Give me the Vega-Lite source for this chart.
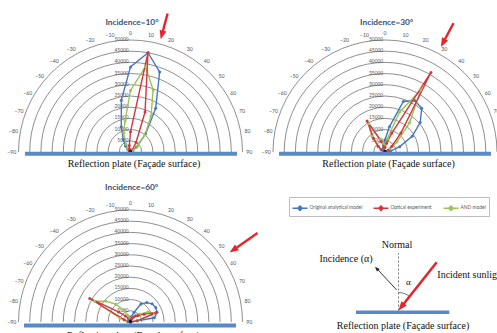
{
"$schema": "https://vega.github.io/schema/vega-lite/v6.json",
"padding": 0,
"background": "white",
"columns": 2,
"spacing": {"row": 13, "column": 0},
"bounds": "flush",
"config": {"view": {"stroke": null},
  "legend": {"labelFont": "Lato", "labelFontSize": 4.9, "labelColor": "#595959", "symbolType": "M-1,0L1,0M0,-0.32L0.32,0L0,0.32L-0.32,0Z", "symbolSize": 225, "symbolStrokeWidth": 1.3, "strokeColor": "#bdbdbd", "fillColor": "white", "padding": 2.5, "columnPadding": 8, "labelOffset": 1}},
"datasets": {
 "rings": [{"r":5000},{"r":10000},{"r":15000},{"r":20000},{"r":25000},{"r":30000},{"r":35000},{"r":40000},{"r":45000},{"r":50000}],
 "angles": [{"a":-90},{"a":-80},{"a":-70},{"a":-60},{"a":-50},{"a":-40},{"a":-30},{"a":-20},{"a":-10},{"a":0},{"a":10},{"a":20},{"a":30},{"a":40},{"a":50},{"a":60},{"a":70},{"a":80},{"a":90}],
 "s10": [
  {"s":"Original analytical model","a":-90,"v":0},{"s":"Original analytical model","a":-80,"v":0},{"s":"Original analytical model","a":-70,"v":0},{"s":"Original analytical model","a":-60,"v":500},{"s":"Original analytical model","a":-50,"v":1500},{"s":"Original analytical model","a":-40,"v":3500},{"s":"Original analytical model","a":-30,"v":6500},{"s":"Original analytical model","a":-20,"v":12000},{"s":"Original analytical model","a":-10,"v":23500},{"s":"Original analytical model","a":0,"v":38000},{"s":"Original analytical model","a":10,"v":45000},{"s":"Original analytical model","a":20,"v":38000},{"s":"Original analytical model","a":30,"v":22500},{"s":"Original analytical model","a":40,"v":10500},{"s":"Original analytical model","a":50,"v":3500},{"s":"Original analytical model","a":60,"v":1000},{"s":"Original analytical model","a":70,"v":0},{"s":"Original analytical model","a":80,"v":0},{"s":"Original analytical model","a":90,"v":0},
  {"s":"AND model","a":-90,"v":0},{"s":"AND model","a":-80,"v":0},{"s":"AND model","a":-70,"v":0},{"s":"AND model","a":-60,"v":500},{"s":"AND model","a":-50,"v":1000},{"s":"AND model","a":-40,"v":2000},{"s":"AND model","a":-30,"v":4000},{"s":"AND model","a":-20,"v":9000},{"s":"AND model","a":-10,"v":14000},{"s":"AND model","a":0,"v":27500},{"s":"AND model","a":10,"v":38700},{"s":"AND model","a":20,"v":29500},{"s":"AND model","a":30,"v":18300},{"s":"AND model","a":40,"v":10000},{"s":"AND model","a":50,"v":4000},{"s":"AND model","a":60,"v":1500},{"s":"AND model","a":70,"v":500},{"s":"AND model","a":80,"v":0},{"s":"AND model","a":90,"v":0},
  {"s":"Optical experiment","a":-90,"v":0},{"s":"Optical experiment","a":-80,"v":0},{"s":"Optical experiment","a":-70,"v":0},{"s":"Optical experiment","a":-60,"v":0},{"s":"Optical experiment","a":-50,"v":500},{"s":"Optical experiment","a":-40,"v":500},{"s":"Optical experiment","a":-30,"v":1000},{"s":"Optical experiment","a":-20,"v":1500},{"s":"Optical experiment","a":-10,"v":3000},{"s":"Optical experiment","a":0,"v":9000},{"s":"Optical experiment","a":10,"v":45000},{"s":"Optical experiment","a":20,"v":19000},{"s":"Optical experiment","a":30,"v":5000},{"s":"Optical experiment","a":40,"v":1500},{"s":"Optical experiment","a":50,"v":500},{"s":"Optical experiment","a":60,"v":0},{"s":"Optical experiment","a":70,"v":0},{"s":"Optical experiment","a":80,"v":0},{"s":"Optical experiment","a":90,"v":0}
 ],
 "s30": [
  {"s":"Original analytical model","a":-90,"v":0},{"s":"Original analytical model","a":-80,"v":0},{"s":"Original analytical model","a":-70,"v":0},{"s":"Original analytical model","a":-60,"v":0},{"s":"Original analytical model","a":-50,"v":500},{"s":"Original analytical model","a":-40,"v":1000},{"s":"Original analytical model","a":-30,"v":1500},{"s":"Original analytical model","a":-20,"v":2000},{"s":"Original analytical model","a":-10,"v":3000},{"s":"Original analytical model","a":0,"v":5500},{"s":"Original analytical model","a":10,"v":11500},{"s":"Original analytical model","a":20,"v":24000},{"s":"Original analytical model","a":30,"v":26500},{"s":"Original analytical model","a":40,"v":25500},{"s":"Original analytical model","a":50,"v":20500},{"s":"Original analytical model","a":60,"v":14000},{"s":"Original analytical model","a":70,"v":7000},{"s":"Original analytical model","a":80,"v":2500},{"s":"Original analytical model","a":90,"v":0},
  {"s":"AND model","a":-90,"v":0},{"s":"AND model","a":-80,"v":0},{"s":"AND model","a":-70,"v":500},{"s":"AND model","a":-60,"v":1500},{"s":"AND model","a":-50,"v":4000},{"s":"AND model","a":-40,"v":9000},{"s":"AND model","a":-30,"v":14500},{"s":"AND model","a":-20,"v":6000},{"s":"AND model","a":-10,"v":4000},{"s":"AND model","a":0,"v":3500},{"s":"AND model","a":10,"v":6000},{"s":"AND model","a":20,"v":19000},{"s":"AND model","a":30,"v":32000},{"s":"AND model","a":40,"v":17000},{"s":"AND model","a":50,"v":7000},{"s":"AND model","a":60,"v":2500},{"s":"AND model","a":70,"v":500},{"s":"AND model","a":80,"v":0},{"s":"AND model","a":90,"v":0},
  {"s":"Optical experiment","a":-90,"v":0},{"s":"Optical experiment","a":-80,"v":0},{"s":"Optical experiment","a":-70,"v":500},{"s":"Optical experiment","a":-60,"v":2000},{"s":"Optical experiment","a":-50,"v":4000},{"s":"Optical experiment","a":-40,"v":8000},{"s":"Optical experiment","a":-30,"v":16000},{"s":"Optical experiment","a":-20,"v":5000},{"s":"Optical experiment","a":-10,"v":2500},{"s":"Optical experiment","a":0,"v":2000},{"s":"Optical experiment","a":10,"v":4000},{"s":"Optical experiment","a":20,"v":9000},{"s":"Optical experiment","a":30,"v":41000},{"s":"Optical experiment","a":40,"v":11000},{"s":"Optical experiment","a":50,"v":4000},{"s":"Optical experiment","a":60,"v":1500},{"s":"Optical experiment","a":70,"v":500},{"s":"Optical experiment","a":80,"v":0},{"s":"Optical experiment","a":90,"v":0}
 ],
 "s60": [
  {"s":"Original analytical model","a":-90,"v":0},{"s":"Original analytical model","a":-80,"v":0},{"s":"Original analytical model","a":-70,"v":0},{"s":"Original analytical model","a":-60,"v":500},{"s":"Original analytical model","a":-50,"v":1000},{"s":"Original analytical model","a":-40,"v":1000},{"s":"Original analytical model","a":-30,"v":1500},{"s":"Original analytical model","a":-20,"v":1500},{"s":"Original analytical model","a":-10,"v":1500},{"s":"Original analytical model","a":0,"v":1500},{"s":"Original analytical model","a":10,"v":2500},{"s":"Original analytical model","a":20,"v":4500},{"s":"Original analytical model","a":30,"v":9300},{"s":"Original analytical model","a":40,"v":11300},{"s":"Original analytical model","a":50,"v":12600},{"s":"Original analytical model","a":60,"v":13000},{"s":"Original analytical model","a":70,"v":12600},{"s":"Original analytical model","a":80,"v":10800},{"s":"Original analytical model","a":90,"v":0},
  {"s":"AND model","a":-90,"v":0},{"s":"AND model","a":-80,"v":1500},{"s":"AND model","a":-70,"v":5000},{"s":"AND model","a":-60,"v":18500},{"s":"AND model","a":-50,"v":14500},{"s":"AND model","a":-40,"v":10500},{"s":"AND model","a":-30,"v":6000},{"s":"AND model","a":-20,"v":3000},{"s":"AND model","a":-10,"v":2000},{"s":"AND model","a":0,"v":1500},{"s":"AND model","a":10,"v":1500},{"s":"AND model","a":20,"v":2000},{"s":"AND model","a":30,"v":3000},{"s":"AND model","a":40,"v":4000},{"s":"AND model","a":50,"v":5500},{"s":"AND model","a":60,"v":9000},{"s":"AND model","a":70,"v":11500},{"s":"AND model","a":80,"v":3000},{"s":"AND model","a":90,"v":0},
  {"s":"Optical experiment","a":-90,"v":0},{"s":"Optical experiment","a":-80,"v":1000},{"s":"Optical experiment","a":-70,"v":3000},{"s":"Optical experiment","a":-60,"v":21000},{"s":"Optical experiment","a":-50,"v":7000},{"s":"Optical experiment","a":-40,"v":3500},{"s":"Optical experiment","a":-30,"v":2000},{"s":"Optical experiment","a":-20,"v":1500},{"s":"Optical experiment","a":-10,"v":1000},{"s":"Optical experiment","a":0,"v":1000},{"s":"Optical experiment","a":10,"v":1000},{"s":"Optical experiment","a":20,"v":1500},{"s":"Optical experiment","a":30,"v":2500},{"s":"Optical experiment","a":40,"v":3500},{"s":"Optical experiment","a":50,"v":4500},{"s":"Optical experiment","a":60,"v":7000},{"s":"Optical experiment","a":70,"v":12000},{"s":"Optical experiment","a":80,"v":3000},{"s":"Optical experiment","a":90,"v":0}
 ]
},
"concat": [
  {"width": 250, "height": 152, "layer": [
   {"data": {"name": "rings"}, "mark": {"type": "point", "shape": "circle", "filled": false, "stroke": "#5e5e5e", "strokeWidth": 0.7, "opacity": 1, "clip": true},
    "encoding": {"x": {"datum": 0, "type": "quantitative", "scale": {"domain": [-58259, 53348], "nice": false, "zero": false}, "axis": null},
                 "y": {"datum": 0, "type": "quantitative", "scale": {"domain": [0, 67857], "nice": false, "zero": false}, "axis": null},
                 "size": {"field": "r", "type": "quantitative", "scale": {"type": "pow", "exponent": 2, "domain": [0, 50000], "range": [0, 50176], "zero": true}, "legend": null}}},
   {"data": {"name": "rings"}, "mark": {"type": "text", "align": "right", "baseline": "middle", "dx": -2, "fontSize": 4.8, "font": "Lato", "fill": "#555"},
    "encoding": {"x": {"datum": 0, "type": "quantitative", "axis": null}, "y": {"field": "r", "type": "quantitative", "axis": null}, "text": {"field": "r", "type": "quantitative", "format": "d"}}},
   {"data": {"name": "angles"}, "transform": [{"calculate": "53000*sin(datum.a*PI/180)", "as": "lx"}, {"calculate": "53000*cos(datum.a*PI/180)", "as": "ly"}],
    "mark": {"type": "text", "fontSize": 5.2, "font": "Lato", "fill": "#555", "baseline": "middle"},
    "encoding": {"x": {"field": "lx", "type": "quantitative", "axis": null}, "y": {"field": "ly", "type": "quantitative", "axis": null}, "text": {"field": "a", "type": "quantitative", "format": "d"}}},
   {"data": {"name": "s10"}, "transform": [{"calculate": "datum.v*sin(datum.a*PI/180)", "as": "px"}, {"calculate": "datum.v*cos(datum.a*PI/180)", "as": "py"}],
    "mark": {"type": "line", "strokeWidth": 1.4, "point": {"filled": true, "size": 9}},
    "encoding": {"x": {"field": "px", "type": "quantitative", "axis": null}, "y": {"field": "py", "type": "quantitative", "axis": null},
      "color": {"field": "s", "type": "nominal", "scale": {"domain": ["Original analytical model", "Optical experiment", "AND model"], "range": ["#4677c0", "#d2373c", "#9bc35a"]}, "legend": {"orient": "none", "legendX": 289, "legendY": 197, "direction": "horizontal", "title": null}},
      "order": {"field": "a", "type": "quantitative"}}},
   {"data": {"values": [{}]}, "mark": {"type": "point", "shape": "circle", "filled": true, "fill": "#111", "size": 10, "opacity": 1},
    "encoding": {"x": {"datum": 0, "type": "quantitative", "axis": null}, "y": {"datum": 300, "type": "quantitative", "axis": null}}},
   {"data": {"values": [{}]}, "mark": {"type": "rule", "stroke": "#e3262b", "strokeWidth": 2.4},
    "encoding": {"x": {"datum": 16564, "type": "quantitative", "axis": null}, "y": {"datum": 61818, "type": "quantitative", "axis": null}, "x2": {"datum": 14494}, "y2": {"datum": 54091}}},
   {"data": {"values": [{}]}, "mark": {"type": "point", "shape": "M0,0L-0.7,1.8L0.7,1.8Z", "size": 100, "filled": true, "fill": "#e3262b", "opacity": 1, "strokeWidth": 0, "angle": 195},
    "encoding": {"x": {"datum": 13484, "type": "quantitative", "axis": null}, "y": {"datum": 50324, "type": "quantitative", "axis": null}}},
   {"data": {"values": [{}]}, "mark": {"type": "rule", "stroke": "#5a8ac6", "strokeWidth": 4},
    "encoding": {"x": {"datum": -47098, "type": "quantitative", "axis": null}, "x2": {"datum": 47545}, "y": {"datum": -804, "type": "quantitative", "axis": null}}},
   {"data": {"values": [{}]}, "mark": {"type": "text", "text": "Reflection plate (Façade surface)", "font": "Liberation Serif", "fontSize": 10, "fill": "#111", "baseline": "middle"},
    "encoding": {"x": {"datum": 1562, "type": "quantitative", "axis": null}, "y": {"datum": -5134, "type": "quantitative", "axis": null}}},
   {"data": {"values": [{}]}, "mark": {"type": "text", "text": "Incidence=10°", "font": "Lato", "fontWeight": "bold", "fontSize": 8.3, "fill": "#3a5275", "baseline": "middle"},
    "encoding": {"x": {"datum": 670, "type": "quantitative", "axis": null}, "y": {"datum": 57723, "type": "quantitative", "axis": null}}}
  ]},
  {"width": 247, "height": 152, "layer": [
   {"data": {"name": "rings"}, "mark": {"type": "point", "shape": "circle", "filled": false, "stroke": "#5e5e5e", "strokeWidth": 0.7, "opacity": 1, "clip": true},
    "encoding": {"x": {"datum": 0, "type": "quantitative", "scale": {"domain": [-60268, 50000], "nice": false, "zero": false}, "axis": null},
                 "y": {"datum": 0, "type": "quantitative", "scale": {"domain": [0, 67857], "nice": false, "zero": false}, "axis": null},
                 "size": {"field": "r", "type": "quantitative", "scale": {"type": "pow", "exponent": 2, "domain": [0, 50000], "range": [0, 50176], "zero": true}, "legend": null}}},
   {"data": {"name": "rings"}, "mark": {"type": "text", "align": "right", "baseline": "middle", "dx": -2, "fontSize": 4.8, "font": "Lato", "fill": "#555"},
    "encoding": {"x": {"datum": 0, "type": "quantitative", "axis": null}, "y": {"field": "r", "type": "quantitative", "axis": null}, "text": {"field": "r", "type": "quantitative", "format": "d"}}},
   {"data": {"name": "angles"}, "transform": [{"calculate": "53000*sin(datum.a*PI/180)", "as": "lx"}, {"calculate": "53000*cos(datum.a*PI/180)", "as": "ly"}],
    "mark": {"type": "text", "fontSize": 5.2, "font": "Lato", "fill": "#555", "baseline": "middle"},
    "encoding": {"x": {"field": "lx", "type": "quantitative", "axis": null}, "y": {"field": "ly", "type": "quantitative", "axis": null}, "text": {"field": "a", "type": "quantitative", "format": "d"}}},
   {"data": {"name": "s30"}, "transform": [{"calculate": "datum.v*sin(datum.a*PI/180)", "as": "px"}, {"calculate": "datum.v*cos(datum.a*PI/180)", "as": "py"}],
    "mark": {"type": "line", "strokeWidth": 1.4, "point": {"filled": true, "size": 9}},
    "encoding": {"x": {"field": "px", "type": "quantitative", "axis": null}, "y": {"field": "py", "type": "quantitative", "axis": null},
      "color": {"field": "s", "type": "nominal", "scale": {"domain": ["Original analytical model", "Optical experiment", "AND model"], "range": ["#4677c0", "#d2373c", "#9bc35a"]}, "legend": {"orient": "none", "legendX": 289, "legendY": 197, "direction": "horizontal", "title": null}},
      "order": {"field": "a", "type": "quantitative"}}},
   {"data": {"values": [{}]}, "mark": {"type": "point", "shape": "circle", "filled": true, "fill": "#111", "size": 10, "opacity": 1},
    "encoding": {"x": {"datum": 0, "type": "quantitative", "axis": null}, "y": {"datum": 300, "type": "quantitative", "axis": null}}},
   {"data": {"values": [{}]}, "mark": {"type": "rule", "stroke": "#e3262b", "strokeWidth": 2.4},
    "encoding": {"x": {"datum": 30602, "type": "quantitative", "axis": null}, "y": {"datum": 57546, "type": "quantitative", "axis": null}, "x2": {"datum": 26762}, "y2": {"datum": 50325}}},
   {"data": {"values": [{}]}, "mark": {"type": "point", "shape": "M0,0L-0.7,1.8L0.7,1.8Z", "size": 100, "filled": true, "fill": "#e3262b", "opacity": 1, "strokeWidth": 0, "angle": 208},
    "encoding": {"x": {"datum": 24942, "type": "quantitative", "axis": null}, "y": {"datum": 46904, "type": "quantitative", "axis": null}}},
   {"data": {"values": [{}]}, "mark": {"type": "rule", "stroke": "#5a8ac6", "strokeWidth": 4},
    "encoding": {"x": {"datum": -47321, "type": "quantitative", "axis": null}, "x2": {"datum": 47321}, "y": {"datum": -804, "type": "quantitative", "axis": null}}},
   {"data": {"values": [{}]}, "mark": {"type": "text", "text": "Reflection plate (Façade surface)", "font": "Liberation Serif", "fontSize": 10, "fill": "#111", "baseline": "middle"},
    "encoding": {"x": {"datum": 1562, "type": "quantitative", "axis": null}, "y": {"datum": -5357, "type": "quantitative", "axis": null}}},
   {"data": {"values": [{}]}, "mark": {"type": "text", "text": "Incidence=30°", "font": "Lato", "fontWeight": "bold", "fontSize": 8.3, "fill": "#3a5275", "baseline": "middle"},
    "encoding": {"x": {"datum": 759, "type": "quantitative", "axis": null}, "y": {"datum": 57723, "type": "quantitative", "axis": null}}}
  ]},
  {"width": 250, "height": 157, "layer": [
   {"data": {"name": "rings"}, "mark": {"type": "point", "shape": "circle", "filled": false, "stroke": "#5e5e5e", "strokeWidth": 0.7, "opacity": 1, "clip": true},
    "encoding": {"x": {"datum": 0, "type": "quantitative", "scale": {"domain": [-58259, 53348], "nice": false, "zero": false}, "axis": null},
                 "y": {"datum": 0, "type": "quantitative", "scale": {"domain": [0, 70089], "nice": false, "zero": false}, "axis": null},
                 "size": {"field": "r", "type": "quantitative", "scale": {"type": "pow", "exponent": 2, "domain": [0, 50000], "range": [0, 50176], "zero": true}, "legend": null}}},
   {"data": {"name": "rings"}, "mark": {"type": "text", "align": "right", "baseline": "middle", "dx": -2, "fontSize": 4.8, "font": "Lato", "fill": "#555"},
    "encoding": {"x": {"datum": 0, "type": "quantitative", "axis": null}, "y": {"field": "r", "type": "quantitative", "axis": null}, "text": {"field": "r", "type": "quantitative", "format": "d"}}},
   {"data": {"name": "angles"}, "transform": [{"calculate": "53000*sin(datum.a*PI/180)", "as": "lx"}, {"calculate": "53000*cos(datum.a*PI/180)", "as": "ly"}],
    "mark": {"type": "text", "fontSize": 5.2, "font": "Lato", "fill": "#555", "baseline": "middle"},
    "encoding": {"x": {"field": "lx", "type": "quantitative", "axis": null}, "y": {"field": "ly", "type": "quantitative", "axis": null}, "text": {"field": "a", "type": "quantitative", "format": "d"}}},
   {"data": {"name": "s60"}, "transform": [{"calculate": "datum.v*sin(datum.a*PI/180)", "as": "px"}, {"calculate": "datum.v*cos(datum.a*PI/180)", "as": "py"}],
    "mark": {"type": "line", "strokeWidth": 1.4, "point": {"filled": true, "size": 9}},
    "encoding": {"x": {"field": "px", "type": "quantitative", "axis": null}, "y": {"field": "py", "type": "quantitative", "axis": null},
      "color": {"field": "s", "type": "nominal", "scale": {"domain": ["Original analytical model", "Optical experiment", "AND model"], "range": ["#4677c0", "#d2373c", "#9bc35a"]}, "legend": {"orient": "none", "legendX": 289, "legendY": 197, "direction": "horizontal", "title": null}},
      "order": {"field": "a", "type": "quantitative"}}},
   {"data": {"values": [{}]}, "mark": {"type": "point", "shape": "circle", "filled": true, "fill": "#111", "size": 10, "opacity": 1},
    "encoding": {"x": {"datum": 0, "type": "quantitative", "axis": null}, "y": {"datum": 300, "type": "quantitative", "axis": null}}},
   {"data": {"values": [{}]}, "mark": {"type": "rule", "stroke": "#e3262b", "strokeWidth": 2.4},
    "encoding": {"x": {"datum": 56685, "type": "quantitative", "axis": null}, "y": {"datum": 39691, "type": "quantitative", "axis": null}, "x2": {"datum": 47514}, "y2": {"datum": 33269}}},
   {"data": {"values": [{}]}, "mark": {"type": "point", "shape": "M0,0L-0.7,1.8L0.7,1.8Z", "size": 100, "filled": true, "fill": "#e3262b", "opacity": 1, "strokeWidth": 0, "angle": 235},
    "encoding": {"x": {"datum": 44252, "type": "quantitative", "axis": null}, "y": {"datum": 30985, "type": "quantitative", "axis": null}}},
   {"data": {"values": [{}]}, "mark": {"type": "rule", "stroke": "#5a8ac6", "strokeWidth": 4},
    "encoding": {"x": {"datum": -47545, "type": "quantitative", "axis": null}, "x2": {"datum": 47098}, "y": {"datum": -1562, "type": "quantitative", "axis": null}}},
   {"data": {"values": [{}]}, "mark": {"type": "text", "text": "Reflection plate (Façade surface)", "font": "Liberation Serif", "fontSize": 10, "fill": "#111", "baseline": "middle"},
    "encoding": {"x": {"datum": 1250, "type": "quantitative", "axis": null}, "y": {"datum": -6250, "type": "quantitative", "axis": null}}},
   {"data": {"values": [{}]}, "mark": {"type": "text", "text": "Incidence=60°", "font": "Lato", "fontWeight": "bold", "fontSize": 8.3, "fill": "#3a5275", "baseline": "middle"},
    "encoding": {"x": {"datum": 536, "type": "quantitative", "axis": null}, "y": {"datum": 59955, "type": "quantitative", "axis": null}}}
  ]},
  {"width": 247, "height": 157, "layer": [
   {"data": {"values": [{}]}, "mark": {"type": "rule", "stroke": "#555", "strokeWidth": 0.8, "strokeDash": [2, 2]},
    "encoding": {"x": {"datum": 0, "type": "quantitative", "scale": {"domain": [-148.5, 98.5], "nice": false, "zero": false}, "axis": null},
                 "y": {"datum": 0, "type": "quantitative", "scale": {"domain": [-11.5, 145.5], "nice": false, "zero": false}, "axis": null}, "y2": {"datum": 57.5}}},
   {"data": {"values": [{}]}, "mark": {"type": "text", "text": "Normal", "font": "Liberation Serif", "fontSize": 10, "fill": "#111", "baseline": "middle"},
    "encoding": {"x": {"datum": -1.5, "type": "quantitative", "axis": null}, "y": {"datum": 65.5, "type": "quantitative", "axis": null}}},
   {"data": {"values": [{}]}, "mark": {"type": "rule", "stroke": "#222", "strokeWidth": 0.9},
    "encoding": {"x": {"datum": -1.8, "type": "quantitative", "axis": null}, "y": {"datum": 20.5, "type": "quantitative", "axis": null}, "x2": {"datum": -21.5}, "y2": {"datum": 41.7}}},
   {"data": {"values": [{}]}, "mark": {"type": "point", "shape": "M0,0L-0.7,1.8L0.7,1.8Z", "size": 30, "filled": true, "fill": "#222", "opacity": 1, "strokeWidth": 0, "angle": 317},
    "encoding": {"x": {"datum": -23.5, "type": "quantitative", "axis": null}, "y": {"datum": 43.8, "type": "quantitative", "axis": null}}},
   {"data": {"values": [{}]}, "mark": {"type": "text", "text": "Incidence (α)", "font": "Liberation Serif", "fontSize": 10, "fill": "#111", "baseline": "middle"},
    "encoding": {"x": {"datum": -52.5, "type": "quantitative", "axis": null}, "y": {"datum": 51.2, "type": "quantitative", "axis": null}}},
   {"data": {"values": [{}]}, "mark": {"type": "text", "text": "α", "font": "Liberation Serif", "fontSize": 9, "fill": "#111", "baseline": "middle"},
    "encoding": {"x": {"datum": 9.8, "type": "quantitative", "axis": null}, "y": {"datum": 28.2, "type": "quantitative", "axis": null}}},
   {"data": {"values": [{}]}, "mark": {"type": "point", "shape": "M0,-1A1,1,0,0,1,0.62,-0.78", "size": 1296, "filled": false, "stroke": "#333", "strokeWidth": 0.7, "opacity": 1},
    "encoding": {"x": {"datum": 0, "type": "quantitative", "axis": null}, "y": {"datum": 0, "type": "quantitative", "axis": null}}},
   {"data": {"values": [{}]}, "mark": {"type": "rule", "stroke": "#e3262b", "strokeWidth": 2.6},
    "encoding": {"x": {"datum": 38.2, "type": "quantitative", "axis": null}, "y": {"datum": 48.2, "type": "quantitative", "axis": null}, "x2": {"datum": 3.7}, "y2": {"datum": 4.7}}},
   {"data": {"values": [{}]}, "mark": {"type": "rule", "stroke": "#5a8ac6", "strokeWidth": 3.5},
    "encoding": {"x": {"datum": -42.5, "type": "quantitative", "axis": null}, "x2": {"datum": 50.8}, "y": {"datum": -1.8, "type": "quantitative", "axis": null}}},
   {"data": {"values": [{}]}, "mark": {"type": "point", "shape": "M0,0L-0.7,1.8L0.7,1.8Z", "size": 100, "filled": true, "fill": "#e3262b", "opacity": 1, "strokeWidth": 0, "angle": 218.4},
    "encoding": {"x": {"datum": 0, "type": "quantitative", "axis": null}, "y": {"datum": 0, "type": "quantitative", "axis": null}}},
   {"data": {"values": [{}]}, "mark": {"type": "text", "text": "Incident sunlight", "font": "Liberation Serif", "fontSize": 10, "fill": "#111", "baseline": "middle", "align": "left"},
    "encoding": {"x": {"datum": 38.8, "type": "quantitative", "axis": null}, "y": {"datum": 35.5, "type": "quantitative", "axis": null}}},
   {"data": {"values": [{}]}, "mark": {"type": "text", "text": "Reflection plate (Façade surface)", "font": "Liberation Serif", "fontSize": 10, "fill": "#111", "baseline": "middle"},
    "encoding": {"x": {"datum": 4.5, "type": "quantitative", "axis": null}, "y": {"datum": -15.5, "type": "quantitative", "axis": null}}}
  ]}
]
}
